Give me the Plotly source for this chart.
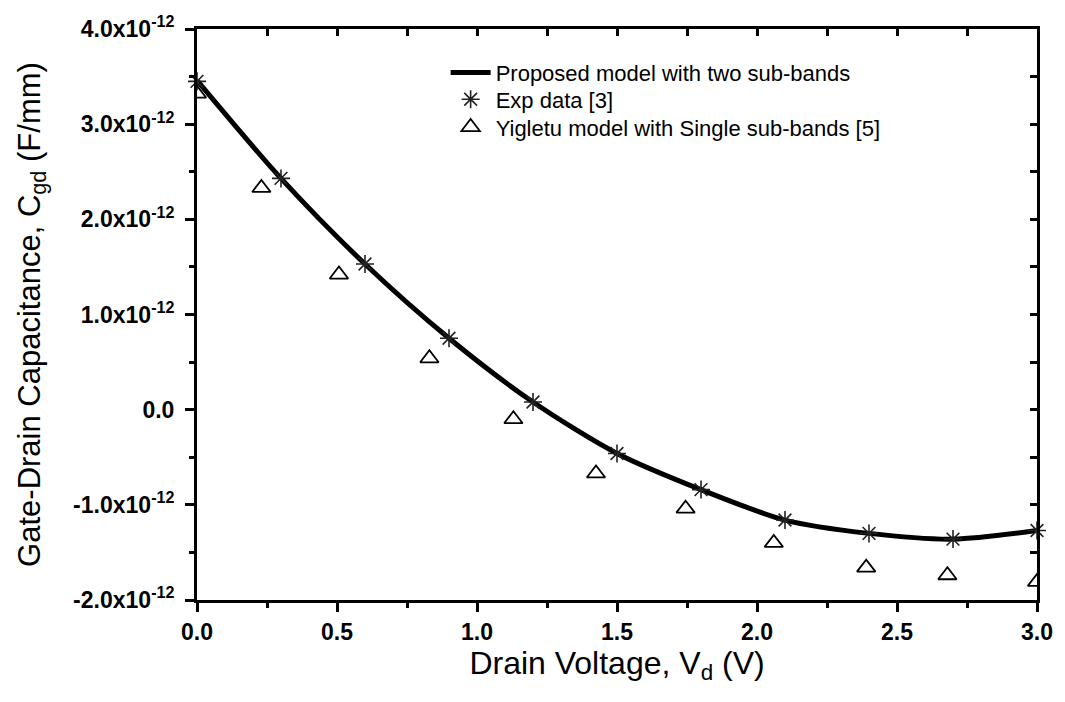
import plotly.graph_objects as go

# Data (capacitance in F/mm)
exp_x = [0.0, 0.3, 0.6, 0.9, 1.2, 1.5, 1.8, 2.1, 2.4, 2.7, 3.0]
exp_y = [3.45e-12, 2.43e-12, 1.53e-12, 0.75e-12, 0.08e-12, -0.46e-12, -0.84e-12, -1.16e-12, -1.30e-12, -1.36e-12, -1.27e-12]

model_x = [0.0, 0.3, 0.6, 0.9, 1.2, 1.5, 1.8, 2.1, 2.4, 2.7, 3.0]
model_y = [3.46e-12, 2.43e-12, 1.53e-12, 0.75e-12, 0.08e-12, -0.46e-12, -0.84e-12, -1.16e-12, -1.30e-12, -1.36e-12, -1.27e-12]

yig_x = [0.0, 0.23, 0.507, 0.83, 1.13, 1.425, 1.745, 2.06, 2.39, 2.68, 3.0]
yig_y = [3.32e-12, 2.33e-12, 1.42e-12, 0.54e-12, -0.10e-12, -0.67e-12, -1.04e-12, -1.40e-12, -1.66e-12, -1.74e-12, -1.81e-12]

x_ticks = [0.0, 0.5, 1.0, 1.5, 2.0, 2.5, 3.0]
x_ticklabels = ["0.0", "0.5", "1.0", "1.5", "2.0", "2.5", "3.0"]
y_ticks = [-2e-12, -1e-12, 0.0, 1e-12, 2e-12, 3e-12, 4e-12]
y_ticklabels = ["-2.0x10<sup>-12</sup>", "-1.0x10<sup>-12</sup>", "0.0",
                "1.0x10<sup>-12</sup>", "2.0x10<sup>-12</sup>",
                "3.0x10<sup>-12</sup>", "4.0x10<sup>-12</sup>"]
x_minor = [0.25, 0.75, 1.25, 1.75, 2.25, 2.75]
y_minor = [-1.5e-12, -0.5e-12, 0.5e-12, 1.5e-12, 2.5e-12, 3.5e-12]

x_range = [0.0, 3.0]
y_range = [-2e-12, 4e-12]

FONT = "Liberation Sans, Arial, sans-serif"

fig = go.Figure()
fig.add_trace(go.Scatter(
    x=model_x, y=model_y, mode="lines", name="Proposed model with two sub-bands",
    line=dict(color="black", width=5, shape="spline", smoothing=0.8), cliponaxis=True,
    legend="legend"))
fig.add_trace(go.Scatter(
    x=exp_x, y=exp_y, mode="markers", name="Exp data [3]",
    marker=dict(symbol="asterisk-open", size=15, color="#222", line=dict(width=1.6, color="#222")),
    cliponaxis=False, legend="legend2"))
fig.add_trace(go.Scatter(
    x=yig_x, y=yig_y, mode="markers", name="Yigletu model with Single sub-bands [5]",
    marker=dict(symbol="triangle-up-open", size=16, color="black", line=dict(width=1.8, color="black")),
    cliponaxis=True, legend="legend3"))
# dummy trace to anchor mirrored axes
fig.add_trace(go.Scatter(x=[None], y=[None], xaxis="x2", yaxis="y2", showlegend=False, hoverinfo="skip"))

tickfont = dict(family=FONT, size=23, color="black", weight="bold")
legfont = dict(family=FONT, size=22, color="black")

def leg(yc):
    return dict(x=0.296, y=yc, xanchor="left", yanchor="middle", bgcolor="rgba(0,0,0,0)",
                font=legfont, itemwidth=40)

fig.update_layout(
    width=1065, height=702,
    margin=dict(l=197, r=23, t=25, b=102),
    paper_bgcolor="white", plot_bgcolor="white",
    font=dict(family=FONT, color="black"),
    xaxis=dict(range=x_range, tickmode="array", tickvals=x_ticks, ticktext=x_ticklabels,
               ticks="outside", ticklen=9, tickwidth=2.5, tickcolor="black",
               minor=dict(tickvals=x_minor, ticks="outside", ticklen=5, tickwidth=2.5, tickcolor="black"),
               showline=True, linecolor="black", linewidth=3, showgrid=False, zeroline=False,
               tickfont=tickfont,
               title=dict(text="Drain Voltage, V<sub>d</sub> (V)", font=dict(family=FONT, size=32, color="black"), standoff=8)),
    yaxis=dict(range=y_range, tickmode="array", tickvals=y_ticks, ticktext=y_ticklabels,
               ticks="outside", ticklen=9, tickwidth=2.5, tickcolor="black",
               minor=dict(tickvals=y_minor, ticks="outside", ticklen=5, tickwidth=2.5, tickcolor="black"),
               showline=True, linecolor="black", linewidth=3, showgrid=False, zeroline=False,
               tickfont=tickfont, ticklabelstandoff=6,
               title=dict(text="Gate-Drain Capacitance, C<sub>gd</sub> (F/mm)", font=dict(family=FONT, size=31, color="black"), standoff=24)),
    xaxis2=dict(range=x_range, overlaying="x", side="top", anchor="y2",
                tickmode="array", tickvals=x_ticks + x_minor, showticklabels=False,
                ticks="inside", ticklen=7, tickwidth=2.5, tickcolor="black",
                showline=True, linecolor="black", linewidth=3, showgrid=False, zeroline=False),
    yaxis2=dict(range=y_range, overlaying="y", side="right", anchor="x2",
                tickmode="array", tickvals=y_ticks + y_minor, showticklabels=False,
                ticks="inside", ticklen=7, tickwidth=2.5, tickcolor="black",
                showline=True, linecolor="black", linewidth=3, showgrid=False, zeroline=False),
    legend=leg(0.9235),
    legend2=leg(0.8766),
    legend3=leg(0.8279),
    showlegend=True,
)

fig.write_html("out.html")
